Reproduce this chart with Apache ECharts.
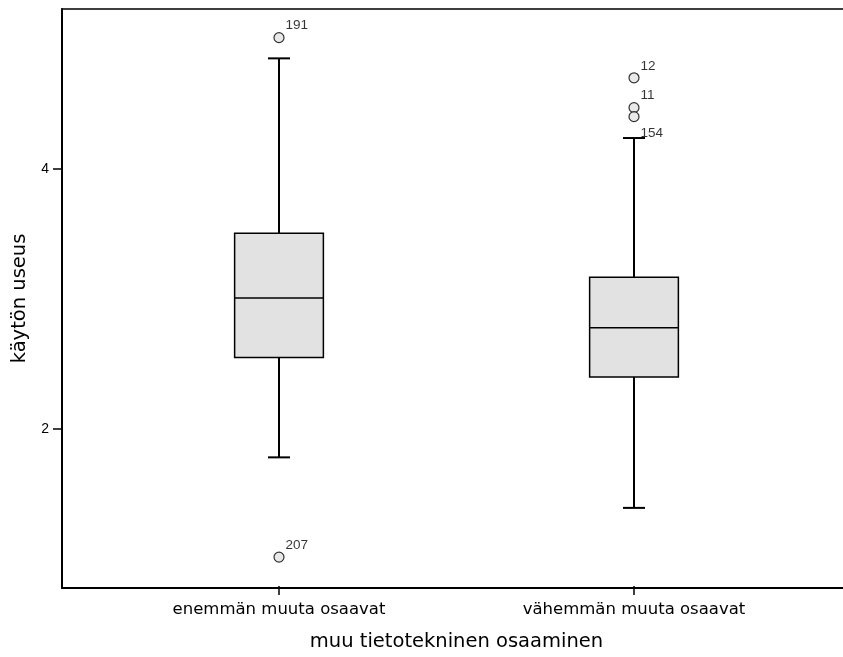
<!DOCTYPE html>
<html>
<head>
<meta charset="utf-8">
<script src="https://cdn.jsdelivr.net/npm/echarts@6/dist/echarts.min.js"></script>
<style>
html,body{margin:0;padding:0;background:#fff;}
#chart{width:843px;height:657px;}
</style>
</head>
<body>
<div id="chart"></div>
<script>
// ---- data ----
const categories = ['enemmän muuta osaavat', 'vähemmän muuta osaavat'];
const whiskerLow = [1.77, 1.38];
const q1 = [2.54, 2.39];
const median = [3.0, 2.77];
const q3 = [3.5, 3.16];
const whiskerHigh = [4.85, 4.235];
const outlierCategory = [0, 0, 1, 1, 1];
const outlierValue = [5.01, 1.0, 4.70, 4.47, 4.40];
const outlierCase = ['191', '207', '12', '11', '154'];
const yTicks = [2, 4];
const yMin = 0.777, yMax = 5.231;
const xTitle = 'muu tietotekninen osaaminen';
const yTitle = 'käytön useus';

// ---- build ----
const boxData = categories.map((c, i) => [i, whiskerLow[i], q1[i], median[i], q3[i], whiskerHigh[i]]);
const labelOffsets = { '154': [0, 17] };
const outlierData = outlierValue.map((v, k) => ({
  value: [outlierCategory[k], v],
  label: { offset: labelOffsets[outlierCase[k]] || [0, -12] },
  name: outlierCase[k]
}));

const chart = echarts.init(document.getElementById('chart'), null, { renderer: 'canvas' });
const wideFont = 'DejaVu Sans';
const frameLine = { show: true, lineStyle: { color: '#000', width: 2 } };
chart.setOption({
  animation: false,
  backgroundColor: '#fff',
  grid: [
    { left: 62, top: 9, right: -10, bottom: 69 },
    { left: 101.5, width: 710, top: 9, bottom: 69 }
  ],
  xAxis: [
    { gridIndex: 0, type: 'value', min: 0, max: 1, position: 'bottom',
      axisLine: frameLine,
      axisTick: { show: false }, axisLabel: { show: false }, splitLine: { show: false } },
    { gridIndex: 0, type: 'value', min: 0, max: 1, position: 'top',
      axisLine: { show: true, lineStyle: { color: '#000', width: 1.5 } },
      axisTick: { show: false }, axisLabel: { show: false }, splitLine: { show: false } },
    { gridIndex: 1, type: 'category', data: categories, boundaryGap: true,
      axisLine: { show: false },
      axisTick: { show: true, alignWithLabel: true, length: 9, lineStyle: { color: '#000', width: 1.5 } },
      axisLabel: { color: '#000', fontSize: 16.5, fontFamily: wideFont, margin: 15 },
      name: xTitle, nameLocation: 'middle', nameGap: 46,
      nameTextStyle: { color: '#000', fontSize: 19.5, fontFamily: wideFont },
      splitLine: { show: false } }
  ],
  yAxis: [
    { gridIndex: 0, type: 'value', min: yMin, max: yMax,
      axisLine: frameLine,
      axisTick: { show: true, length: 9, customValues: yTicks, lineStyle: { color: '#000', width: 1.5 } },
      axisLabel: { show: true, customValues: yTicks, color: '#000', fontSize: 14, fontFamily: 'Liberation Sans', margin: 13 },
      splitLine: { show: false },
      name: yTitle, nameLocation: 'middle', nameGap: 31,
      nameTextStyle: { color: '#000', fontSize: 19.5, fontFamily: wideFont } },
    { gridIndex: 1, type: 'value', min: yMin, max: yMax, show: false, splitLine: { show: false } }
  ],
  series: [
    {
      type: 'custom', xAxisIndex: 2, yAxisIndex: 1,
      data: boxData,
      encode: { x: 0, y: [1, 2, 3, 4, 5] },
      renderItem: function (params, api) {
        const i = api.value(0);
        const band = api.size([1, 0])[0];
        const bw = band * 0.25;
        const cw = band * 0.062;
        const pLow = api.coord([i, api.value(1)]);
        const pQ1 = api.coord([i, api.value(2)]);
        const pMed = api.coord([i, api.value(3)]);
        const pQ3 = api.coord([i, api.value(4)]);
        const pHigh = api.coord([i, api.value(5)]);
        const cx = pMed[0];
        const thick = { stroke: '#000', lineWidth: 2 };
        return {
          type: 'group',
          children: [
            { type: 'line', shape: { x1: cx, y1: pHigh[1], x2: cx, y2: pQ3[1] }, style: thick },
            { type: 'line', shape: { x1: cx, y1: pQ1[1], x2: cx, y2: pLow[1] }, style: thick },
            { type: 'line', shape: { x1: cx - cw / 2, y1: pHigh[1], x2: cx + cw / 2, y2: pHigh[1] }, style: thick },
            { type: 'line', shape: { x1: cx - cw / 2, y1: pLow[1], x2: cx + cw / 2, y2: pLow[1] }, style: thick },
            { type: 'rect', shape: { x: cx - bw / 2, y: pQ3[1], width: bw, height: pQ1[1] - pQ3[1] },
              style: { fill: '#e2e2e2', stroke: '#000', lineWidth: 1.5 } },
            { type: 'line', shape: { x1: cx - bw / 2, y1: pMed[1], x2: cx + bw / 2, y2: pMed[1] },
              style: { stroke: '#000', lineWidth: 1.5 } }
          ]
        };
      }
    },
    {
      type: 'scatter', xAxisIndex: 2, yAxisIndex: 1,
      symbol: 'circle', symbolSize: 10,
      itemStyle: { color: '#e4e4e4', borderColor: '#000', borderWidth: 1.2 },
      label: { show: true, position: 'right', distance: 1, formatter: p => p.name,
        color: '#000', fontSize: 13.5, fontFamily: 'Liberation Sans' },
      data: outlierData,
      z: 5
    }
  ]
});
</script>
</body>
</html>
